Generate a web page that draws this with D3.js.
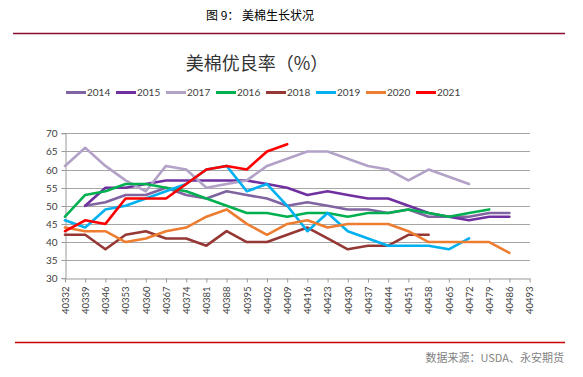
<!DOCTYPE html>
<html>
<head>
<meta charset="utf-8">
<script src="https://cdn.jsdelivr.net/npm/d3@7"></script>
<style>
  html, body { margin: 0; padding: 0; background: #fff; }
  svg { display: block; }
</style>
</head>
<body>
<svg id="chart" width="583" height="377"></svg>
<script>
const categories = ["40332","40339","40346","40353","40360","40367","40374","40381","40388","40395","40402","40409","40416","40423","40430","40437","40444","40451","40458","40465","40472","40479","40486","40493"];
const yTicks = [30,35,40,45,50,55,60,65,70];

const s2014 = [null,50,51,53,53,55,53,52,54,53,52,50,51,50,49,49,48,49,47,47,47,48,48,null];
const s2015 = [null,50,55,55,56,57,57,57,57,57,56,55,53,54,53,52,52,50,48,47,46,47,47,null];
const s2017 = [61,66,61,57,54,61,60,55,56,57,61,63,65,65,63,61,60,57,60,58,56,null,null,null];
const s2016 = [47,53,54,56,56,55,54,52,50,48,48,47,48,48,47,48,48,49,48,47,48,49,null,null];
const s2018 = [42,42,38,42,43,41,41,39,43,40,40,42,44,41,38,39,39,42,42,null,null,null,null,null];
const s2019 = [46,44,49,50,52,54,56,60,61,54,56,50,43,48,43,41,39,39,39,38,41,null,null,null];
const s2020 = [44,43,43,40,41,43,44,47,49,45,42,45,46,44,45,45,45,43,40,40,40,40,37,null];
const s2021 = [43,46,45,52,52,52,56,60,61,60,65,67,null,null,null,null,null,null,null,null,null,null,null,null];

const seriesNames = ["2014","2015","2017","2016","2018","2019","2020","2021"];
const seriesData = [s2014,s2015,s2017,s2016,s2018,s2019,s2020,s2021];
const seriesColors = ["#8064A2","#7030A0","#B3A2C7","#00B050","#953735","#00B0F0","#ED7D31","#FF0000"];

const svg = d3.select("#chart");
const numFont = "Lato, 'Liberation Sans', sans-serif";
const cjkFont = "'Noto Sans CJK SC', sans-serif";

// Header
svg.append("text").attr("x", 260).attr("y", 20).attr("text-anchor", "middle")
  .attr("font-family", cjkFont).attr("font-size", 12).attr("fill", "#000")
  .text("图 9：  美棉生长状况");
svg.append("line").attr("x1", 13).attr("x2", 565).attr("y1", 33.5).attr("y2", 33.5)
  .attr("stroke", "#8B0A2E").attr("stroke-width", 1.5);

// Chart title
svg.append("text").attr("x", 257).attr("y", 70).attr("text-anchor", "middle")
  .attr("font-family", cjkFont).attr("font-size", 18).attr("fill", "#333")
  .text("美棉优良率（%）");

// Legend
const legend = svg.append("g");
seriesNames.forEach((n, i) => {
  const lx = 66 + i * 50;
  legend.append("line").attr("x1", lx).attr("x2", lx + 20).attr("y1", 92.5).attr("y2", 92.5)
    .attr("stroke", seriesColors[i]).attr("stroke-width", 3);
  legend.append("text").attr("x", lx + 21).attr("y", 96).attr("font-family", numFont)
    .attr("font-size", 10).attr("fill", "#404040").text(n);
});

// Scales
const x = d3.scalePoint().domain(categories).range([65, 529.6]);
const y = d3.scaleLinear().domain([30, 70]).range([278.3, 133.3]);

// Gridlines
svg.append("g").selectAll("line").data(yTicks.filter(t => t > 30)).join("line")
  .attr("x1", 65).attr("x2", 530).attr("y1", d => Math.round(y(d)) + 0.5).attr("y2", d => Math.round(y(d)) + 0.5)
  .attr("stroke", "#A6A6A6").attr("stroke-width", 1);

// Y axis
const yAxis = svg.append("g").attr("transform", "translate(65.5,0)")
  .call(d3.axisLeft(y).tickValues(yTicks).tickSize(4).tickPadding(4).tickFormat(d3.format("d")));
yAxis.select(".domain").attr("stroke", "#999");
yAxis.selectAll(".tick line").attr("stroke", "#999");
yAxis.selectAll(".tick text").attr("font-family", numFont).attr("font-size", 10).attr("fill", "#404040");
yAxis.selectAll(".tick").attr("transform", d => `translate(0,${Math.round(y(d)) + 0.5})`);

// X axis
const xAxis = svg.append("g").attr("transform", `translate(0,${Math.round(y(30)) + 0.5})`)
  .call(d3.axisBottom(x).tickSize(4).tickSizeOuter(0));
xAxis.select(".domain").attr("stroke", "#999");
xAxis.selectAll(".tick line").attr("stroke", "#999");
xAxis.selectAll(".tick text")
  .attr("font-family", numFont).attr("font-size", 9.5).attr("fill", "#404040")
  .attr("transform", "rotate(-90)").attr("text-anchor", "end")
  .attr("x", -8).attr("y", 0).attr("dy", "0.35em");

// Lines
const line = d3.line().defined(d => d != null)
  .x((d, i) => x(categories[i])).y(d => y(d));
seriesData.forEach((s, i) => {
  svg.append("path").datum(s).attr("d", line)
    .attr("fill", "none").attr("stroke", seriesColors[i]).attr("stroke-width", 2.6)
    .attr("stroke-linejoin", "round").attr("stroke-linecap", "round");
});

// Footer
svg.append("line").attr("x1", 15).attr("x2", 565).attr("y1", 342.5).attr("y2", 342.5)
  .attr("stroke", "#CC0000").attr("stroke-width", 1.5);
svg.append("text").attr("x", 564).attr("y", 362).attr("text-anchor", "end")
  .attr("font-family", cjkFont).attr("font-size", 11).attr("fill", "#7F7F7F")
  .text("数据来源：USDA、永安期货");
</script>
</body>
</html>
